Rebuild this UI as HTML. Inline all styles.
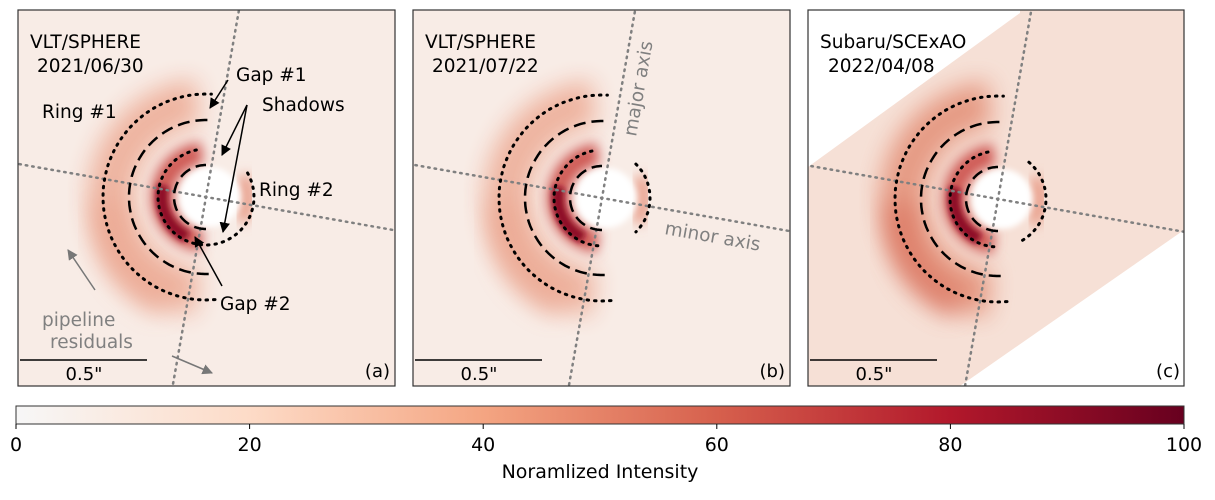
<!DOCTYPE html>
<html><head><meta charset="utf-8"><style>
body{margin:0;background:#fff;width:1215px;height:495px;overflow:hidden}
text{font-family:"DejaVu Sans","Liberation Sans",sans-serif}
</style></head><body>
<svg id="fig" width="1215" height="495" viewBox="0 0 1215 495" xmlns="http://www.w3.org/2000/svg">
<defs>
<linearGradient id="cmap" x1="0" x2="1" y1="0" y2="0">
<stop offset="0" stop-color="#f7f7f7"/><stop offset="0.2" stop-color="#fddbc7"/><stop offset="0.4" stop-color="#f4a582"/><stop offset="0.6" stop-color="#d6604d"/><stop offset="0.8" stop-color="#b2182b"/><stop offset="1" stop-color="#67001f"/>
</linearGradient>
<filter id="blur12" x="-50%" y="-50%" width="200%" height="200%"><feGaussianBlur stdDeviation="12"/></filter>
<filter id="blur6" x="-50%" y="-50%" width="200%" height="200%"><feGaussianBlur stdDeviation="6"/></filter>
<filter id="blur3" x="-50%" y="-50%" width="200%" height="200%"><feGaussianBlur stdDeviation="3"/></filter>
<clipPath id="clipA"><rect x="18" y="10" width="377" height="376"/></clipPath>
<clipPath id="clipB"><rect x="413" y="10" width="377" height="376"/></clipPath>
<clipPath id="clipC"><rect x="808" y="10" width="376" height="376"/></clipPath>
</defs>
<g id="panels"></g>
<g id="colorbar"></g>
</svg>
<script>
const NS='http://www.w3.org/2000/svg';
// colorbar data
const cbTicks=[0,20,40,60,80,100];
const cbMin=0, cbMax=100;
// panel definitions (centers)
const panelNames=['a','b','c'];
const panelX=[18,413,808];
const centerX=[206,602,998];
const centerY=[197,198,199];
// ring radii (px) and arc spans (degrees, screen angles)
const ringNames=['outer-dotted-ring','outer-dashed-gap','inner-dotted-ring','inner-dashed-gap'];
const ringRadius=[103,77,48,32];
const ringDash=['1.5 6','12 6','1.5 6','12 6'];
const spansA=[[[85,273]],[[88,272]],[[-30,265]],[[90,270]]];
const spansB=[[[85,273]],[[88,272]],[[95,265],[-45,45]],[[90,270]]];
const spansC=[[[85,273]],[[88,272]],[[95,265],[-50,60]],[[90,270]]];
const spans=[spansA,spansB,spansC];

function el(tag,attrs,parent,txt){const e=document.createElementNS(NS,tag);for(const k in attrs)e.setAttribute(k,attrs[k]);if(txt!==undefined)e.textContent=txt;parent.appendChild(e);return e;}
function arcPath(cx,cy,r,a0,a1){let d='';const n=60;for(let i=0;i<=n;i++){const a=(a0+(a1-a0)*i/n)*Math.PI/180;d+=(i?'L':'M')+(cx+r*Math.cos(a)).toFixed(1)+','+(cy+r*Math.sin(a)).toFixed(1);}return d;}

const P=document.getElementById('panels');
const clips=['clipA','clipB','clipC'];
panelNames.forEach((nm,i)=>{
  const x0=panelX[i], cx=centerX[i], cy=centerY[i];
  const g=el('g',{},P);
  
  
  const img=el('g',{'clip-path':'url(#'+clips[i]+')'},g);
  
  
  el('rect',{x:x0,y:10,width:377,height:376,fill:i==2?'#f6e0d6':'#f8ece6'},img);
  // outer ring glow
  el('path',{d:arcPath(cx,cy,95,95,265),fill:'none',stroke:i==2?'#e59780':'#eeb19c','stroke-width':46,filter:'url(#blur12)',opacity:0.95},img);
  el('path',{d:arcPath(cx-8,cy+20,90,110,190),fill:'none',stroke:i==2?'#d9705c':'#eba690','stroke-width':30,filter:'url(#blur12)',opacity:0.7},img);
  // inner bright ring
  el('path',{d:arcPath(cx,cy,44,95,265),fill:'none',stroke:'#cf5a55','stroke-width':22,filter:'url(#blur6)'},img);
  el('path',{d:arcPath(cx,cy,44,115,195),fill:'none',stroke:'#8e0e26','stroke-width':12,filter:'url(#blur3)'},img);
  el('path',{d:arcPath(cx,cy,42,-30,35),fill:'none',stroke:'#e79580','stroke-width':12,filter:'url(#blur6)'},img);
  el('circle',{cx:cx+4,cy:cy,r:30,fill:'#ffffff',filter:'url(#blur3)'},img);
  if(i==2){
    const w1=el('polygon',{points:'808,10 1020,10 1020,13 808,167',fill:'#ffffff'},img);
    
    
    const w2=el('polygon',{points:'960,386 1184,230 1184,386',fill:'#ffffff'},img);
    
    
  }
  // axes lines
  const ax=el('g',{stroke:'#808080','stroke-width':2.5,'stroke-dasharray':'1.5 5','stroke-linecap':'round',fill:'none'},img);
  const majA=-80*Math.PI/180, minA=10*Math.PI/180, L=300;
  const mj=el('line',{x1:cx-L*Math.cos(majA),y1:cy-L*Math.sin(majA),x2:cx+L*Math.cos(majA),y2:cy+L*Math.sin(majA)},ax);
  
  
  const mn=el('line',{x1:cx-L*Math.cos(minA),y1:cy-L*Math.sin(minA),x2:cx+L*Math.cos(minA),y2:cy+L*Math.sin(minA)},ax);
  
  
  // rings
  ringNames.forEach((rn,k)=>{
    spans[i][k].forEach(sp=>{
      const p=el('path',{d:arcPath(cx,cy,ringRadius[k],sp[0],sp[1]),fill:'none',stroke:'#000','stroke-width':k%2==0?3:2.5,'stroke-dasharray':ringDash[k],'stroke-linecap':k%2==0?'round':'butt'},img);
      
      
    });
  });
  // scale bar
  const sb=el('line',{x1:x0+2,y1:360,x2:x0+129,y2:360,stroke:'#000','stroke-width':1.5},g);
  
  
  const st=el('text',{x:x0+66,y:380,'font-size':18,'text-anchor':'middle'},g,'0.5"');
  
  
  const pl=el('text',{x:x0+372,y:377,'font-size':18,'text-anchor':'end'},g,'('+nm+')');
  
  
  const fr=el('rect',{x:x0,y:10,width:i==2?376:377,height:376,fill:'none',stroke:'#333','stroke-width':1.2},g);
  
  
});
// colorbar
const CB=document.getElementById('colorbar');
const cbx0=16, cbx1=1184, cby=406, cbh=18;
el('rect',{x:cbx0,y:cby,width:cbx1-cbx0,height:cbh,fill:'url(#cmap)',stroke:'#333','stroke-width':1},CB);
const sx=v=>cbx0+(v-cbMin)/(cbMax-cbMin)*(cbx1-cbx0);
cbTicks.forEach(t=>{
  const tk=el('line',{x1:sx(t),x2:sx(t),y1:cby+cbh,y2:cby+cbh+5,stroke:'#000','stroke-width':1},CB);
  
  
  const tl=el('text',{x:sx(t),y:451,'font-size':19,'text-anchor':'middle'},CB,String(t));
  
  
});
const ct=el('text',{x:600,y:478,'font-size':19,'text-anchor':'middle'},CB,'Noramlized Intensity');


</script>
<svg width="1215" height="495" style="position:absolute;left:0;top:0">
<defs>
<marker id="ah2" viewBox="0 0 10 10" refX="9" refY="5" markerWidth="7" markerHeight="7" orient="auto"><path d="M0,0 L10,5 L0,10 z" fill="#000"/></marker>
<marker id="ahg2" viewBox="0 0 10 10" refX="9" refY="5" markerWidth="7" markerHeight="7" orient="auto"><path d="M0,0 L10,5 L0,10 z" fill="#777"/></marker>
</defs>
<g font-family="DejaVu Sans, Liberation Sans, sans-serif" font-size="18.5" fill="#000">
<text x="30" y="48">VLT/SPHERE</text>
<text x="37" y="72">2021/06/30</text>
<text x="236" y="81">Gap #1</text>
<text x="262" y="111">Shadows</text>
<text x="42" y="118">Ring #1</text>
<text x="259" y="196">Ring #2</text>
<text x="220" y="310">Gap #2</text>
<text x="42" y="326" fill="#808080">pipeline</text>
<text x="50" y="348" fill="#808080">residuals</text>
<text x="425" y="48">VLT/SPHERE</text>
<text x="432" y="72">2021/07/22</text>
<text x="820" y="48">Subaru/SCExAO</text>
<text x="828" y="72">2022/04/08</text>
<text x="0" y="0" fill="#808080" transform="translate(636,137) rotate(-80)">major axis</text>
<text x="0" y="0" fill="#808080" transform="translate(664,234) rotate(10)">minor axis</text>
</g>
<g stroke="#000" stroke-width="1.5" fill="none">
<line x1="228" y1="80" x2="210" y2="108" marker-end="url(#ah2)"/>
<line x1="247" y1="105" x2="222" y2="155" marker-end="url(#ah2)"/>
<line x1="247" y1="105" x2="223" y2="232" marker-end="url(#ah2)"/>
<line x1="222" y1="286" x2="195" y2="237" marker-end="url(#ah2)"/>
</g>
<g stroke="#777" stroke-width="1.5" fill="none">
<line x1="95" y1="290" x2="68" y2="250" marker-end="url(#ahg2)"/>
<line x1="172" y1="356" x2="212" y2="373" marker-end="url(#ahg2)"/>
</g>
</svg>
</body></html>
